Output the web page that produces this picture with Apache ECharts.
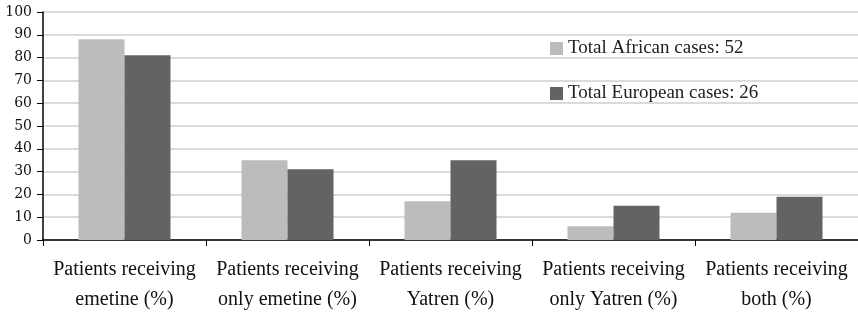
<!DOCTYPE html>
<html><head><meta charset="utf-8">
<script src="https://cdn.jsdelivr.net/npm/echarts@6/dist/echarts.min.js"></script>
<style>html,body{margin:0;padding:0;background:#fff}#c{width:858px;height:312px}</style>
</head><body><div id="c"></div>
<script>
var categories = ['Patients receiving\nemetine (%)', 'Patients receiving\nonly emetine (%)', 'Patients receiving\nYatren (%)', 'Patients receiving\nonly Yatren (%)', 'Patients receiving\nboth (%)'];
var seriesNames = ['Total African cases: 52', 'Total European cases: 26'];
var african = [88, 35, 17, 6, 12];
var european = [81, 31, 35, 15, 19];
var yTicks = [0, 10, 20, 30, 40, 50, 60, 70, 80, 90, 100];

var chart = echarts.init(document.getElementById('c'));
chart.setOption({
  animation: false,
  grid: {left: 43, right: 0, top: 12, bottom: 72, containLabel: false, outerBoundsMode: 'none'},
  legend: {
    orient: 'vertical', left: 545, top: 34, itemGap: 26,
    itemWidth: 13, itemHeight: 13, icon: 'rect',
    textStyle: {fontFamily: 'Liberation Serif', fontSize: 19, color: '#222'},
    data: seriesNames
  },
  xAxis: {
    type: 'category', data: categories,
    axisLine: {lineStyle: {color: '#000', width: 1.5}},
    axisTick: {show: true, length: 6, lineStyle: {color: '#000'}},
    axisLabel: {fontFamily: 'Liberation Serif', fontSize: 20, color: '#111', lineHeight: 30, margin: 15, interval: 0}
  },
  yAxis: {
    type: 'value', min: yTicks[0], max: yTicks[yTicks.length-1], interval: 10,
    axisLine: {show: true, lineStyle: {color: '#000', width: 1.5}},
    axisTick: {show: true, length: 6, lineStyle: {color: '#000'}},
    axisLabel: {fontFamily: 'DejaVu Serif', fontSize: 14, color: '#111', margin: 11},
    splitLine: {lineStyle: {color: '#cfcfcf', width: 1.5}}
  },
  series: [
    {name: seriesNames[0], type: 'bar', data: african, barWidth: 46, barGap: '0%', itemStyle: {color: '#bbbcbe'}},
    {name: seriesNames[1], type: 'bar', data: european, barWidth: 46, barGap: '0%', itemStyle: {color: '#636363'}}
  ]
});
</script></body></html>
